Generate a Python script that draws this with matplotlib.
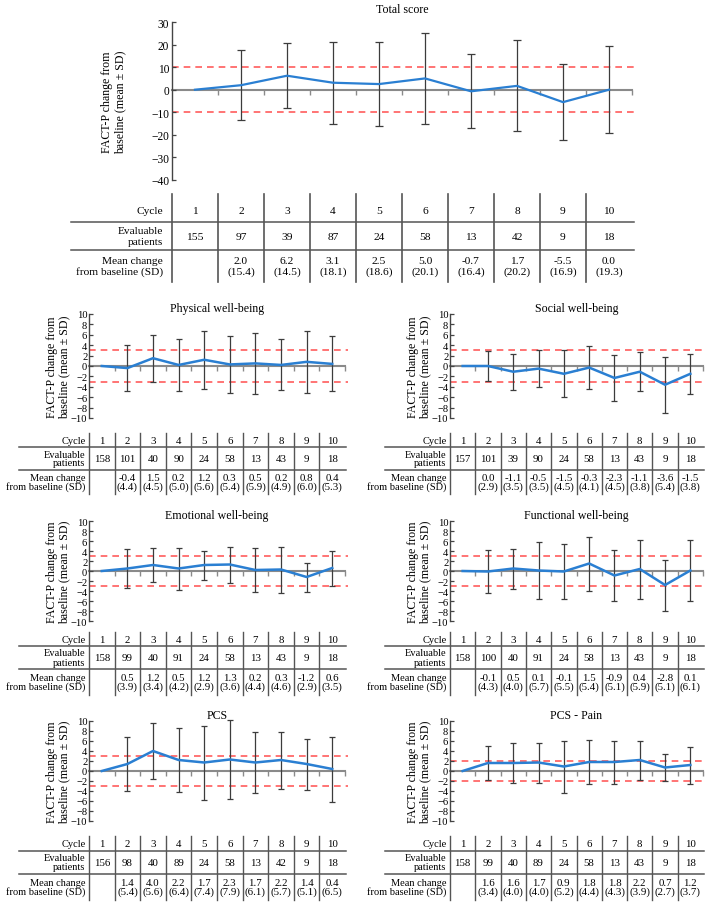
import matplotlib
matplotlib.use('Agg')
import matplotlib.pyplot as plt
import numpy as np

plt.rcParams['font.family'] = ['Liberation Serif', 'DejaVu Serif']

# ---------------- data ----------------
cycles = [1, 2, 3, 4, 5, 6, 7, 8, 9, 10]

total_n = [155, 97, 39, 87, 24, 58, 13, 42, 9, 18]
total_mean = [0.0, 2.0, 6.2, 3.1, 2.5, 5.0, -0.7, 1.7, -5.5, 0.0]
total_sd = [None, 15.4, 14.5, 18.1, 18.6, 20.1, 16.4, 20.2, 16.9, 19.3]

pwb_n = [158, 101, 40, 90, 24, 58, 13, 43, 9, 18]
pwb_mean = [0.0, -0.4, 1.5, 0.2, 1.2, 0.3, 0.5, 0.2, 0.8, 0.4]
pwb_sd = [None, 4.4, 4.5, 5.0, 5.6, 5.4, 5.9, 4.9, 6.0, 5.3]

swb_n = [157, 101, 39, 90, 24, 58, 13, 43, 9, 18]
swb_mean = [0.0, 0.0, -1.1, -0.5, -1.5, -0.3, -2.3, -1.1, -3.6, -1.5]
swb_sd = [None, 2.9, 3.5, 3.5, 4.5, 4.1, 4.5, 3.8, 5.4, 3.8]

ewb_n = [158, 99, 40, 91, 24, 58, 13, 43, 9, 18]
ewb_mean = [0.0, 0.5, 1.2, 0.5, 1.2, 1.3, 0.2, 0.3, -1.2, 0.6]
ewb_sd = [None, 3.9, 3.4, 4.2, 2.9, 3.6, 4.4, 4.6, 2.9, 3.5]

fwb_n = [158, 100, 40, 91, 24, 58, 13, 43, 9, 18]
fwb_mean = [0.0, -0.1, 0.5, 0.1, -0.1, 1.5, -0.9, 0.4, -2.8, 0.1]
fwb_sd = [None, 4.3, 4.0, 5.7, 5.5, 5.4, 5.1, 5.9, 5.1, 6.1]

pcs_n = [156, 98, 40, 89, 24, 58, 13, 42, 9, 18]
pcs_mean = [0.0, 1.4, 4.0, 2.2, 1.7, 2.3, 1.7, 2.2, 1.4, 0.4]
pcs_sd = [None, 5.4, 5.6, 6.4, 7.4, 7.9, 6.1, 5.7, 5.1, 6.5]

pain_n = [158, 99, 40, 89, 24, 58, 13, 43, 9, 18]
pain_mean = [0.0, 1.6, 1.6, 1.7, 0.9, 1.8, 1.8, 2.2, 0.7, 1.2]
pain_sd = [None, 3.4, 4.0, 4.0, 5.2, 4.4, 4.3, 3.9, 2.7, 3.7]

row_labels = ['Cycle', 'Evaluable\npatients', 'Mean change\nfrom baseline (SD)']
ylabel_text = 'FACT-P change from\nbaseline (mean ± SD)'

# ---------------- layout ----------------
W, H = 709, 903
fig = plt.figure(figsize=(W / 100, H / 100), dpi=100)


def rect(l, t, r, b):
    return [l / W, 1 - b / H, (r - l) / W, (b - t) / H]


BLUE = '#2a7fd2'
RED = '#ff5c5c'
GREY = '#3c3c3c'
AXGREY = '#8a8a8a'
LINE = '#555555'


def panel(box, table_rows, lab_left, title, n, mean, sd, ylim, ystep, mcid,
          big=False):
    l, t, r, b = box
    ax = fig.add_axes(rect(l, t, r, b))
    x = np.array(cycles, dtype=float)
    m = np.array(mean, dtype=float)
    ex = x[1:]
    em = m[1:]
    es = np.array(sd[1:], dtype=float)
    ax.set_xlim(0.5, 10.5)
    ax.set_ylim(*ylim)
    for v in (mcid, -mcid):
        ax.plot([0.5, 10.62], [v, v], color=RED, lw=1.2, ls=(0, (4, 3)),
                clip_on=False, zorder=1)
    ax.errorbar(ex, em, yerr=es, fmt='none', ecolor=GREY, elinewidth=0.9,
                capsize=3 if big else 2.5, capthick=0.9, zorder=2,
                clip_on=False)
    ax.plot(x, m, color=BLUE, lw=1.6 if big else 1.8, zorder=3, clip_on=False)
    for s in ('top', 'right'):
        ax.spines[s].set_visible(False)
    ax.spines['bottom'].set_position(('data', 0))
    ax.spines['bottom'].set_color(AXGREY)
    ax.spines['bottom'].set_linewidth(1.5)
    ax.spines['bottom'].set_zorder(1.5)
    ax.spines['left'].set_color('#444444')
    ax.spines['left'].set_linewidth(1.0)
    ax.set_xticks(np.arange(1.5, 11, 1))
    ax.set_xticklabels([])
    ax.tick_params(axis='x', direction='out', length=3.5, width=1,
                   color=AXGREY)
    ax.set_yticks(np.arange(ylim[0], ylim[1] + 0.1, ystep))
    ax.tick_params(axis='y', direction='in', length=3, width=0.9,
                   color='#444444', labelsize=8.3 if big else 7.6,
                   pad=2 if big else 1.2)
    ax.set_title(title, fontsize=8.6, pad=7 if big else 2.5)
    off = 58 if big else 31
    ax.text(-off / (r - l), 0.5, ylabel_text, transform=ax.transAxes,
            rotation=90, ha='center', va='center', fontsize=8.6,
            linespacing=1.15 if big else 1.0)

    # ---- table ----
    ttop, h1, h2, tbot = table_rows
    tab = fig.add_axes(rect(l, ttop, r, tbot))
    tab.set_xlim(0.5, 10.5)
    tab.set_ylim(tbot, ttop)
    tab.axis('off')
    unit = (r - l) / 10.0
    xl = 0.5 - (l - lab_left) / unit
    for hy in (h1, h2):
        tab.plot([xl, 10.55], [hy, hy], color=LINE, lw=1.1, clip_on=False)
    for xv in np.arange(0.5, 10, 1):
        tab.plot([xv, xv], [ttop, tbot], color=LINE, lw=1.2 if big else 1.0,
                 clip_on=False)
    lab_x = 0.5 - (9 if big else 3.5) / unit
    c1 = (ttop + h1) / 2 + (2 if big else 0.5)
    c2 = (h1 + h2) / 2
    c3 = (h2 + tbot) / 2
    ls = 1.25 if big else 1.0
    fs = 8.2 if big else 7.8
    lfs = 8.2 if big else 7.5
    tab.text(lab_x, c1, row_labels[0], ha='right', va='center', fontsize=lfs,
             clip_on=False)
    tab.text(lab_x, c2, row_labels[1], ha='right', va='center', fontsize=lfs,
             linespacing=ls, multialignment='right', clip_on=False)
    tab.text(lab_x, c3, row_labels[2], ha='right', va='center', fontsize=lfs,
             linespacing=ls, multialignment='right', clip_on=False)
    for i, c in enumerate(cycles):
        tab.text(c, c1, str(c), ha='center', va='center', fontsize=fs)
        tab.text(c, c2, str(n[i]), ha='center', va='center', fontsize=fs)
        if sd[i] is not None:
            tab.text(c, c3, f'{mean[i]:.1f}\n({sd[i]:.1f})', ha='center',
                     va='center', fontsize=fs, linespacing=ls)
    return ax


# top panel
panel((172, 23, 632, 181), (195, 223, 251, 283), 71, 'Total score',
      total_n, total_mean, total_sd, (-40, 30), 10, 10, big=True)

L = (89, 345, 19)
R = (450, 703, 385)
rows = [
    ((315, 419), (434, 448, 471, 495)),
    ((522, 622), (633, 647, 670, 696)),
    ((722, 822), (837, 852, 875, 901)),
]

panel((L[0], rows[0][0][0], L[1], rows[0][0][1]), rows[0][1], L[2],
      'Physical well-being', pwb_n, pwb_mean, pwb_sd, (-10, 10), 2, 3)
panel((R[0], rows[0][0][0], R[1], rows[0][0][1]), rows[0][1], R[2],
      'Social well-being', swb_n, swb_mean, swb_sd, (-10, 10), 2, 3)
panel((L[0], rows[1][0][0], L[1], rows[1][0][1]), rows[1][1], L[2],
      'Emotional well-being', ewb_n, ewb_mean, ewb_sd, (-10, 10), 2, 3)
panel((R[0], rows[1][0][0], R[1], rows[1][0][1]), rows[1][1], R[2],
      'Functional well-being', fwb_n, fwb_mean, fwb_sd, (-10, 10), 2, 3)
panel((L[0], rows[2][0][0], L[1], rows[2][0][1]), rows[2][1], L[2],
      'PCS', pcs_n, pcs_mean, pcs_sd, (-10, 10), 2, 3)
panel((R[0], rows[2][0][0], R[1], rows[2][0][1]), rows[2][1], R[2],
      'PCS - Pain', pain_n, pain_mean, pain_sd, (-10, 10), 2, 2)

fig.savefig('out.png', dpi=100)
